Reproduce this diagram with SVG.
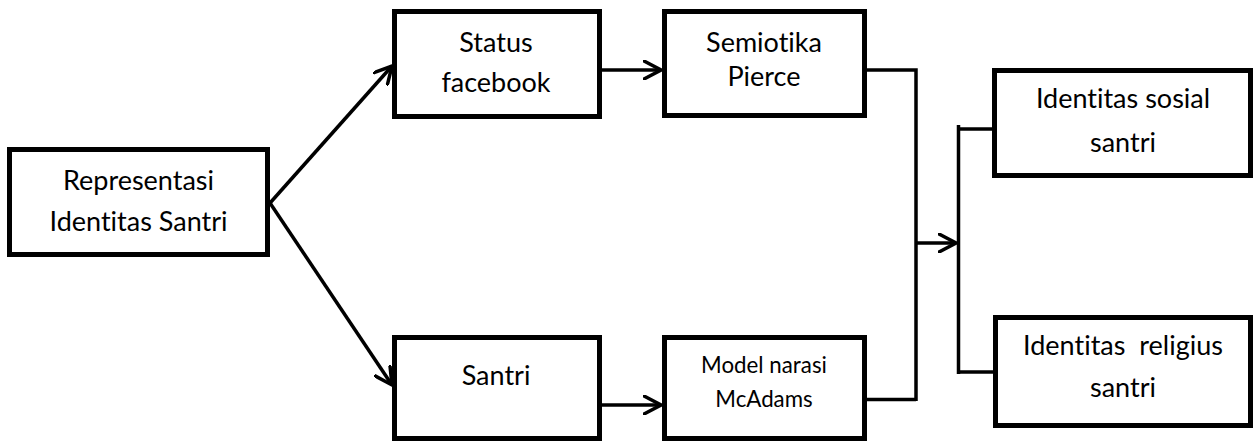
<svg xmlns="http://www.w3.org/2000/svg" width="1254" height="443" viewBox="0 0 1254 443">
<style>
.box{fill:#fff;stroke:#000;stroke-width:5;stroke-linejoin:miter}
.t{font-family:Lato,"Open Sans",sans-serif;font-size:27px;fill:#000;text-anchor:middle;font-variant-ligatures:none;font-feature-settings:"liga" 0}
.s{font-size:22.3px}
.c{fill:none;stroke:#000;stroke-width:3.5;stroke-linecap:butt}
</style>
<defs>
<marker id="ah" viewBox="0 0 20 20" refX="18" refY="10" markerWidth="20" markerHeight="20" markerUnits="userSpaceOnUse" orient="auto">
<path d="M1,1 L18,10 L1,19" fill="none" stroke="#000" stroke-width="3.5" stroke-linecap="round" stroke-linejoin="miter"/>
</marker>
</defs>
<rect width="1254" height="443" fill="#fff"/>
<g id="connectors">
<line class="c" x1="270" y1="203" x2="392" y2="66" marker-end="url(#ah)"/>
<line class="c" x1="270" y1="203" x2="392" y2="385" marker-end="url(#ah)"/>
<line class="c" x1="602" y1="70" x2="661" y2="70" marker-end="url(#ah)"/>
<line class="c" x1="602" y1="405" x2="661" y2="405" marker-end="url(#ah)"/>
<polyline class="c" points="867,70 916,70 916,401"/>
<line class="c" x1="867" y1="399.5" x2="916" y2="399.5"/>
<line class="c" x1="916" y1="243" x2="956" y2="243" marker-end="url(#ah)"/>
<line class="c" x1="958.5" y1="125" x2="958.5" y2="374"/>
<line class="c" x1="958.5" y1="129" x2="993" y2="129"/>
<line class="c" x1="958.5" y1="372" x2="994" y2="372"/>
</g>
<g id="n1">
<rect class="box" x="9.5" y="149.5" width="258" height="105"/>
<text class="t" x="138.5" y="190">Representasi</text>
<text class="t" x="138.5" y="231">Identitas Santri</text>
</g>
<g id="n2">
<rect class="box" x="394.5" y="11.5" width="205" height="105"/>
<text class="t" x="496" y="52">Status</text>
<text class="t" x="496" y="92">facebook</text>
</g>
<g id="n3">
<rect class="box" x="664.5" y="11.5" width="200" height="104"/>
<text class="t" x="764" y="52">Semiotika</text>
<text class="t" x="764" y="86">Pierce</text>
</g>
<g id="n4">
<rect class="box" x="394.5" y="337.5" width="205" height="101"/>
<text class="t" x="496" y="385">Santri</text>
</g>
<g id="n5">
<rect class="box" x="664.5" y="337.5" width="200" height="101"/>
<text class="t s" x="764" y="373">Model narasi</text>
<text class="t s" x="764" y="407">McAdams</text>
</g>
<g id="n6">
<rect class="box" x="994.5" y="70.5" width="256" height="105"/>
<text class="t" x="1123" y="108">Identitas sosial</text>
<text class="t" x="1123" y="152">santri</text>
</g>
<g id="n7">
<rect class="box" x="995.5" y="317.5" width="255" height="108"/>
<text class="t" x="1123" y="355" xml:space="preserve">Identitas  religius</text>
<text class="t" x="1123" y="397">santri</text>
</g>
</svg>
